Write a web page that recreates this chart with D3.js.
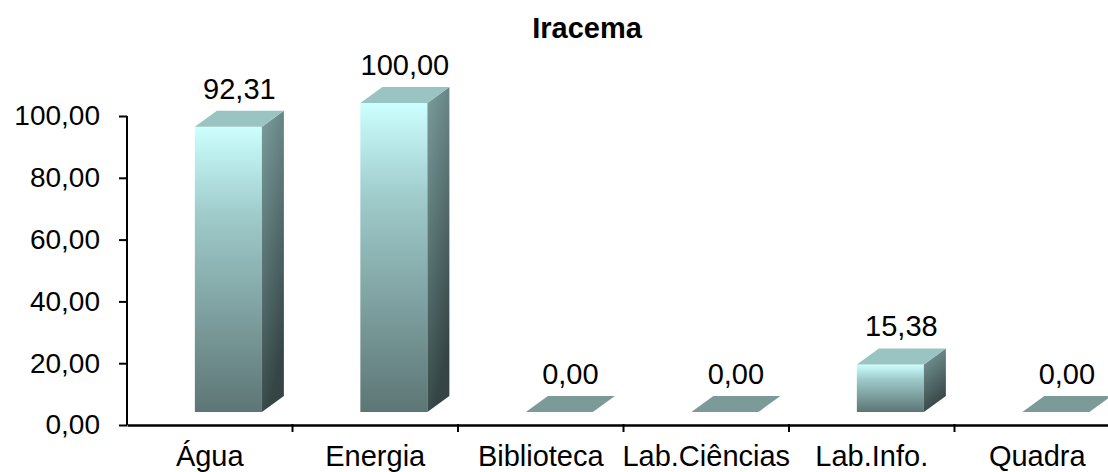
<!DOCTYPE html>
<html>
<head>
<meta charset="utf-8">
<script src="https://cdn.jsdelivr.net/npm/d3@7"></script>
<style>
  body { margin: 0; background: #fff; }
  text { font-family: "Liberation Sans", Arial, sans-serif; fill: #000; }
</style>
</head>
<body>
<div id="chart"></div>
<script>
var categories = ["Água", "Energia", "Biblioteca", "Lab.Ciências", "Lab.Info.", "Quadra"];
var values = [92.31, 100.00, 0.00, 0.00, 15.38, 0.00];
var yTicks = [0, 20, 40, 60, 80, 100];
var title = "Iracema";

var W = 1108, H = 472;
var svg = d3.select("#chart").append("svg")
    .attr("width", W)
    .attr("height", H);

var x = d3.scaleBand().domain(categories).range([127, 1120]).padding(0);
var y = d3.scaleLinear().domain([0, 100]).range([425, 116]);

var fmt = function (v) { return v.toFixed(2).replace(".", ","); };

// 3d geometry
var dx = 22, dy = 16, lift = 13;
var bw = x.bandwidth();
var frontLeft = d => x(d.c) + bw * 0.41;
var frontW = bw * 0.405;

var defs = svg.append("defs");
var gFront = defs.append("linearGradient").attr("id", "gfront")
    .attr("x1", 0).attr("y1", 0).attr("x2", 0).attr("y2", 1);
gFront.append("stop").attr("offset", "0%").attr("stop-color", "#ccffff");
gFront.append("stop").attr("offset", "30%").attr("stop-color", "#a0cccc");
gFront.append("stop").attr("offset", "100%").attr("stop-color", "#5d7575");
var gSide = defs.append("linearGradient").attr("id", "gside")
    .attr("x1", 0).attr("y1", 0).attr("x2", 0.3).attr("y2", 1);
gSide.append("stop").attr("offset", "0%").attr("stop-color", "#7c9e9e");
gSide.append("stop").attr("offset", "100%").attr("stop-color", "#354545");

var data = categories.map((c, i) => ({ c: c, v: values[i] }));

var bars = svg.append("g").selectAll("g").data(data).join("g");

// front face
bars.filter(d => d.v > 0).append("rect")
    .attr("x", frontLeft)
    .attr("y", d => y(d.v) - lift)
    .attr("width", frontW)
    .attr("height", d => y(0) - y(d.v))
    .attr("fill", "url(#gfront)");

// side face
bars.filter(d => d.v > 0).append("path")
    .attr("d", d => {
      var x0 = frontLeft(d) + frontW, t = y(d.v) - lift, b = y(0) - lift;
      return "M" + x0 + "," + t + "L" + (x0 + dx) + "," + (t - dy) +
             "L" + (x0 + dx) + "," + (b - dy) + "L" + x0 + "," + b + "Z";
    })
    .attr("fill", "url(#gside)");

// top face
bars.append("path")
    .attr("d", d => {
      var x0 = frontLeft(d), t = y(d.v) - lift;
      return "M" + x0 + "," + t + "L" + (x0 + frontW) + "," + t +
             "L" + (x0 + frontW + dx) + "," + (t - dy) + "L" + (x0 + dx) + "," + (t - dy) + "Z";
    })
    .attr("fill", d => d.v > 0 ? "#99c4c2" : "#7b9a98");

// value labels
bars.append("text")
    .attr("x", d => frontLeft(d) + (frontW + dx) / 2)
    .attr("y", d => y(d.v) - lift - dy - 12)
    .attr("text-anchor", "middle")
    .style("font-size", "29px")
    .text(d => fmt(d.v));

// y axis
var yAxis = svg.append("g")
    .attr("transform", "translate(127,0)")
    .call(d3.axisLeft(y).tickValues(yTicks).tickFormat(fmt).tickSize(8).tickPadding(19));
yAxis.select(".domain").attr("stroke", "#000").attr("stroke-width", 2).attr("d", "M0," + y(100) + "V" + y(0));
yAxis.selectAll(".tick line").attr("stroke", "#000").attr("stroke-width", 2).attr("x1", 0).attr("x2", -8);
yAxis.selectAll(".tick text").style("font-size", "28px").attr("font-family", null);

// x axis
var xAxis = svg.append("g")
    .attr("transform", "translate(0," + y(0) + ")")
    .call(d3.axisBottom(x).tickSize(0).tickPadding(20));
xAxis.select(".domain").attr("stroke", "#000").attr("stroke-width", 2.5);
xAxis.selectAll(".tick text").style("font-size", "29px").attr("font-family", null);
xAxis.selectAll(".sep").data(categories.slice(1)).join("line")
    .attr("class", "sep")
    .attr("x1", d => x(d)).attr("x2", d => x(d))
    .attr("y1", -1).attr("y2", 7)
    .attr("stroke", "#000").attr("stroke-width", 2);

// title
svg.append("text")
    .attr("x", 587)
    .attr("y", 38)
    .attr("text-anchor", "middle")
    .style("font-size", "29px")
    .style("font-weight", "bold")
    .text(title);
</script>
</body>
</html>
